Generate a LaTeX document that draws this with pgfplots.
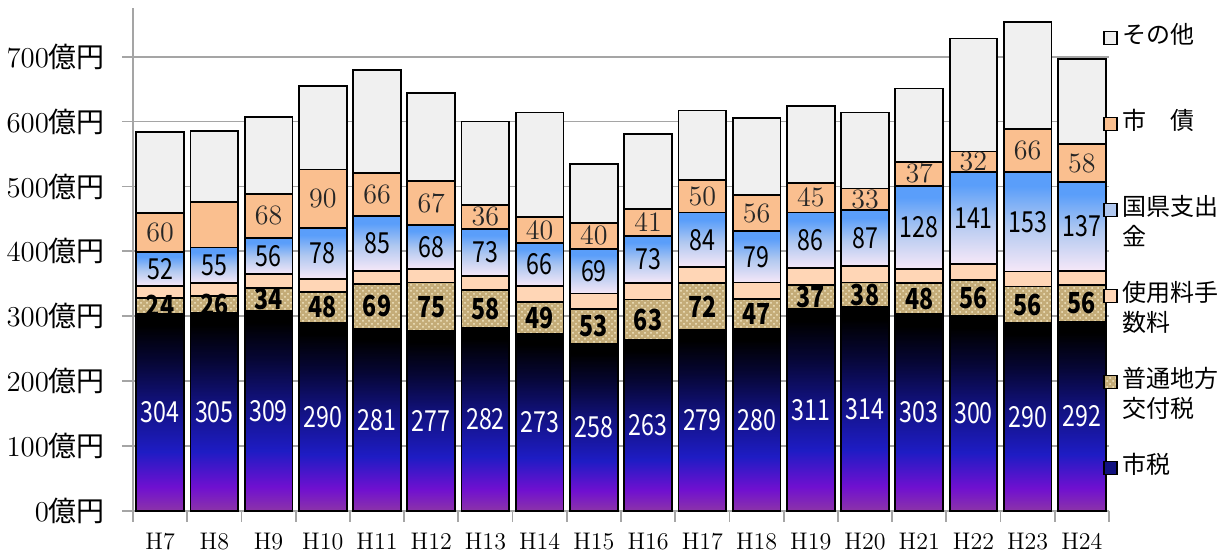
\documentclass[border=0pt]{standalone}
\usepackage{fontspec}
\usepackage{graphicx}
\usepackage{pgfplots}
\pgfplotsset{compat=1.18}
\usetikzlibrary{patterns,calc}
\newfontfamily\jp{Noto Sans CJK JP}

% fill colours
\definecolor{sonota}{RGB}{240,240,240}
\definecolor{shisai}{RGB}{250,191,143}
\definecolor{shiyo}{RGB}{255,214,182}
\definecolor{kofu}{RGB}{196,172,120}
\definecolor{kofudot}{RGB}{242,230,196}
\definecolor{gridgray}{RGB}{165,165,165}
% city tax gradient
\definecolor{z0}{RGB}{140,52,168}
\definecolor{z1}{RGB}{112,16,208}
\definecolor{z2}{RGB}{30,28,196}
\definecolor{z3}{RGB}{18,18,128}
\definecolor{z4}{RGB}{6,6,52}
% national/prefectural grant gradient
\definecolor{k0}{RGB}{246,232,248}
\definecolor{k1}{RGB}{176,200,240}
\definecolor{k2}{RGB}{90,158,250}

\pgfdeclareverticalshading{zei}{100bp}{color(0bp)=(z0); color(25bp)=(z0);
  color(31bp)=(z1); color(40bp)=(z2); color(52bp)=(z3); color(63bp)=(z4);
  color(72bp)=(black); color(100bp)=(black)}
\pgfdeclareverticalshading{koken}{100bp}{color(0bp)=(k0); color(25bp)=(k0);
  color(48bp)=(k1); color(68bp)=(k2); color(100bp)=(k2)}

\newcommand\lgtext[1]{\parbox[t]{60pt}{\raggedright #1}}
\newcommand\barnum{\scalebox{0.8}[1]{\pgfmathprintnumber[assume math mode=true]{\pgfplotspointmeta}}}

\begin{document}
\begin{tikzpicture}
\begin{axis}[
  scale only axis, width=488pt, height=251.5pt,
  xmin=-0.5, xmax=17.5, ymin=0, ymax=775,
  ybar stacked, bar width=0.88,
  axis lines*=left,
  axis line style={draw=gridgray, line width=1pt},
  ymajorgrids, major grid style={draw=gridgray, line width=0.9pt},
  tick align=outside, major tick length=5.5pt,
  tick style={draw=gridgray, line width=0.9pt},
  ytick={0,100,...,700},
  yticklabel={$\pgfmathprintnumber{\tick}${\jp 億円}},
  yticklabel style={font=\fontsize{14}{16}\selectfont, xshift=-5pt},
  xtick={-0.5,0.5,...,17.5}, xticklabels={},
  extra x ticks={0,1,...,17},
  extra x tick labels={H7,H8,H9,H10,H11,H12,H13,H14,H15,H16,H17,H18,H19,H20,H21,H22,H23,H24},
  extra x tick style={tick style={draw=none}, grid=none,
    tick label style={font=\fontsize{12}{14}\selectfont, yshift=-2pt}},
  every axis plot/.append style={draw=black, line width=0.9pt},
  visualization depends on=rawy\as\rawy,
  every node near coord/.append style={anchor=center, inner sep=0pt},
  legend cell align=left,
  reverse legend,
  legend style={draw=none, fill=none, at={(1,1)}, anchor=north west,
    xshift=-3pt, yshift=-7.5pt, row sep=0pt, column sep=2pt,
    inner sep=0pt, nodes={anchor=base west, inner sep=0pt, text height=10pt, text depth=33pt},
    font=\jp\fontsize{12}{15}\selectfont},
  legend image code/.code={\draw[#1, line width=0.8pt] (0pt,-0.5pt) rectangle (6.5pt,6pt);},
  % a shaded box the size of the segment, carrying its value
  seg box/.style={every node near coord/.append style={
    draw=black, line width=0.9pt, shading=#1,
    minimum height={\rawy*\pgfplotsunitylength}, minimum width=\pgfplotbarwidth}},
]
% city tax
\addplot[fill=z3, point meta=rawy, seg box=zei,
  legend image post style={shading=zei},
  nodes near coords={\barnum},
  every node near coord/.append style={text=white, font=\jp\fontsize{14.5}{16}\selectfont}]
  coordinates {(0,304) (1,305) (2,309) (3,290) (4,281) (5,277) (6,282) (7,273) (8,258)
    (9,263) (10,279) (11,280) (12,311) (13,314) (14,303) (15,300) (16,290) (17,292)};
\addlegendentry{\lgtext{市税}}
% local allocation tax
\addplot[fill=kofu, postaction={pattern=crosshatch dots, pattern color=kofudot},
  point meta=rawy,
  nodes near coords={\barnum},
  every node near coord/.append style={text=black, font=\jp\bfseries\fontsize{14.5}{16}\selectfont}]
  coordinates {(0,24) (1,26) (2,34) (3,48) (4,69) (5,75) (6,58) (7,49) (8,53)
    (9,63) (10,72) (11,47) (12,37) (13,38) (14,48) (15,56) (16,56) (17,56)};
\addlegendentry{\lgtext{普通地方\\交付税}}
% fees and charges
\addplot[fill=shiyo]
  coordinates {(0,19) (1,20) (2,22) (3,20) (4,20) (5,21) (6,22) (7,25) (8,24)
    (9,25) (10,25) (11,25) (12,26) (13,25) (14,22) (15,25) (16,23) (17,22)};
\addlegendentry{\lgtext{使用料手\\数料}}
% national and prefectural disbursements
\addplot[fill=k1, point meta=rawy, seg box=koken,
  legend image post style={shading=koken},
  nodes near coords={\barnum},
  every node near coord/.append style={text=black, font=\jp\fontsize{14.5}{16}\selectfont}]
  coordinates {(0,52) (1,55) (2,56) (3,78) (4,85) (5,68) (6,73) (7,66) (8,69)
    (9,73) (10,84) (11,79) (12,86) (13,87) (14,128) (15,141) (16,153) (17,137)};
\addlegendentry{\lgtext{国県支出\\金}}
% municipal bonds
\addplot[fill=shisai, point meta=explicit symbolic,
  nodes near coords,
  every node near coord/.append style={text=black!85, font=\fontsize{14}{16}\selectfont}]
  coordinates {(0,60)[60] (1,70)[] (2,68)[68] (3,90)[90] (4,66)[66] (5,67)[67] (6,36)[36]
    (7,40)[40] (8,40)[40] (9,41)[41] (10,50)[50] (11,56)[56] (12,45)[45] (13,33)[33]
    (14,37)[37] (15,32)[32] (16,66)[66] (17,58)[58]};
\addlegendentry{\lgtext{市　債}}
% other revenue
\addplot[fill=sonota]
  coordinates {(0,125) (1,110) (2,118) (3,129) (4,159) (5,136) (6,129) (7,161) (8,91)
    (9,116) (10,107) (11,118) (12,119) (13,117) (14,113) (15,174) (16,165) (17,132)};
\addlegendentry{\lgtext{その他}}
\end{axis}
\pgfresetboundingbox
\path ($(current axis.south west)+(-66.5pt,-20.5pt)$) rectangle ($(current axis.north east)+(57pt,4pt)$);
\end{tikzpicture}
\end{document}
